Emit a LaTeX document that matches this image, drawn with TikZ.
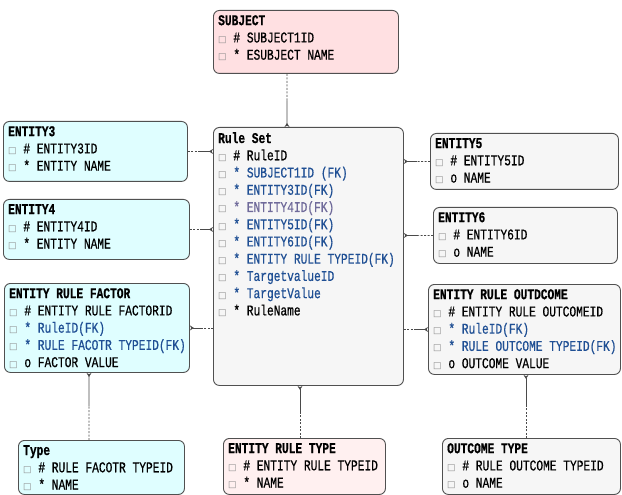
\documentclass[tikz,border=0pt]{standalone}
\usepackage{fontspec}
\newfontfamily\erfont[FakeStretch=0.75,FakeBold=0.6]{Liberation Mono}
\newfontfamily\symfont{DejaVu Sans}
\usetikzlibrary{calc,arrows.meta}
\definecolor{pinkf}{HTML}{FFE0E2}
\definecolor{pinkl}{HTML}{FFF0F0}
\definecolor{cyanf}{HTML}{DFFEFF}
\definecolor{grayf}{HTML}{F6F6F6}
\definecolor{edge}{HTML}{505050}
\definecolor{conngray}{HTML}{4A4A4A}
\definecolor{fkblue}{HTML}{1F4F94}
\definecolor{fkgray}{HTML}{6F6A9A}
\definecolor{sqgray}{HTML}{8A8A8A}
\newcommand\sq{{\color{sqgray}\symfont\fontsize{9}{9}\selectfont □}}
\newcommand\fk[1]{\textcolor{fkblue}{#1}}
\newcommand\rel[2]{%
  \draw[conn,dashed] (#1) -- ($(#1)!0.5!(#2)$);
  \draw[conn,-{Stealth[reversed,length=4bp,width=5bp]}] ($(#1)!0.5!(#2)$) -- (#2);}
\begin{document}
\begin{tikzpicture}[x=1bp,y=-1bp,
  ent/.style={draw=edge, line width=0.9bp, rounded corners=6bp, anchor=north west, inner sep=0pt},
  lbl/.style={anchor=north west, inner sep=0pt, align=left, font=\erfont\fontsize{15}{17.3}\selectfont},
  conn/.style={draw=conngray, line width=0.8bp},
  dashed/.style={dash pattern=on 2bp off 1.5bp}]
\useasboundingbox (0,0) rectangle (622,495);

% boxes
\node[ent, fill=pinkf, minimum width=185bp, minimum height=63bp] (subj) at (213,10) {};
\node[ent, fill=grayf, minimum width=190bp, minimum height=258bp] (rs) at (213,127) {};
\node[ent, fill=cyanf, minimum width=184bp, minimum height=60bp] (e3) at (3,121) {};
\node[ent, fill=cyanf, minimum width=186bp, minimum height=60bp] (e4) at (3,199) {};
\node[ent, fill=cyanf, minimum width=185bp, minimum height=89bp] (erf) at (4,283) {};
\node[ent, fill=grayf, minimum width=188bp, minimum height=56bp] (e5) at (430,133) {};
\node[ent, fill=grayf, minimum width=184bp, minimum height=56bp] (e6) at (433,207) {};
\node[ent, fill=grayf, minimum width=192bp, minimum height=90bp] (ero) at (428,284) {};
\node[ent, fill=cyanf, minimum width=166bp, minimum height=54bp] (ty) at (18,440) {};
\node[ent, fill=pinkl, minimum width=162bp, minimum height=56bp] (ert) at (223,438) {};
\node[ent, fill=grayf, minimum width=178bp, minimum height=56bp] (ot) at (442,438) {};

% labels
\node[lbl] (subjt) at ($(subj.north west)+(5,5)$) {\textbf{SUBJECT}\\\sq\ \# SUBJECT1ID\\\sq\ * ESUBJECT NAME};
\node[lbl] (rst) at ($(rs.north west)+(5,5)$) {\textbf{Rule Set}\\
\sq\ \# RuleID\\
\sq\ \fk{* SUBJECT1ID (FK)}\\
\sq\ \fk{* ENTITY3ID(FK)}\\
\sq\ \textcolor{fkgray}{* ENTITY4ID(FK)}\\
\sq\ \fk{* ENTITY5ID(FK)}\\
\sq\ \fk{* ENTITY6ID(FK)}\\
\sq\ \fk{* ENTITY RULE TYPEID(FK)}\\
\sq\ \fk{* TargetvalueID}\\
\sq\ \fk{* TargetValue}\\
\sq\ * RuleName};
\node[lbl] (e3t) at ($(e3.north west)+(5,5)$) {\textbf{ENTITY3}\\\sq\ \# ENTITY3ID\\\sq\ * ENTITY NAME};
\node[lbl] (e4t) at ($(e4.north west)+(5,5)$) {\textbf{ENTITY4}\\\sq\ \# ENTITY4ID\\\sq\ * ENTITY NAME};
\node[lbl] (erft) at ($(erf.north west)+(5,5)$) {\textbf{ENTITY RULE FACTOR}\\
\sq\ \# ENTITY RULE FACTORID\\
\sq\ \fk{* RuleID(FK)}\\
\sq\ \fk{* RULE FACOTR TYPEID(FK)}\\
\sq\ o FACTOR VALUE};
\node[lbl] (e5t) at ($(e5.north west)+(5,5)$) {\textbf{ENTITY5}\\\sq\ \# ENTITY5ID\\\sq\ o NAME};
\node[lbl] (e6t) at ($(e6.north west)+(5,5)$) {\textbf{ENTITY6}\\\sq\ \# ENTITY6ID\\\sq\ o NAME};
\node[lbl] (erot) at ($(ero.north west)+(5,5)$) {\textbf{ENTITY RULE OUTDCOME}\\
\sq\ \# ENTITY RULE OUTCOMEID\\
\sq\ \fk{* RuleID(FK)}\\
\sq\ \fk{* RULE OUTCOME TYPEID(FK)}\\
\sq\ o OUTCOME VALUE};
\node[lbl] (tyt) at ($(ty.north west)+(5,5)$) {\textbf{Type}\\\sq\ \# RULE FACOTR TYPEID\\\sq\ * NAME};
\node[lbl] (ertt) at ($(ert.north west)+(5,5)$) {\textbf{ENTITY RULE TYPE}\\\sq\ \# ENTITY RULE TYPEID\\\sq\ * NAME};
\node[lbl] (ott) at ($(ot.north west)+(5,5)$) {\textbf{OUTCOME TYPE}\\\sq\ \# RULE OUTCOME TYPEID\\\sq\ o NAME};

% connector end points
\coordinate (c1a) at (subj.south -| 287,0);
\coordinate (c1b) at (rs.north -| 287,0);
\coordinate (c2a) at (e3.east);
\coordinate (c2b) at (e3.east -| rs.west);
\coordinate (c3a) at (e4.east);
\coordinate (c3b) at (e4.east -| rs.west);
\coordinate (c4a) at (erf.east -| rs.west);
\coordinate (c4b) at (erf.east);
\coordinate (c5a) at (e5.west);
\coordinate (c5b) at (e5.west -| rs.east);
\coordinate (c6a) at (e6.west);
\coordinate (c6b) at (e6.west -| rs.east);
\coordinate (c7a) at (ero.west -| rs.east);
\coordinate (c7b) at (ero.west);
\coordinate (c8a) at (ert.north -| 300,0);
\coordinate (c8b) at (rs.south -| 300,0);
\coordinate (c9a) at (ty.north -| 89,0);
\coordinate (c9b) at (erf.south -| 89,0);
\coordinate (c10a) at (ot.north -| 526,0);
\coordinate (c10b) at (ero.south -| 526,0);

\rel{c1a}{c1b}
\rel{c2a}{c2b}
\rel{c3a}{c3b}
\rel{c4a}{c4b}
\rel{c5a}{c5b}
\rel{c6a}{c6b}
\rel{c7a}{c7b}
\rel{c8a}{c8b}
\rel{c9a}{c9b}
\rel{c10a}{c10b}
\end{tikzpicture}
\end{document}
